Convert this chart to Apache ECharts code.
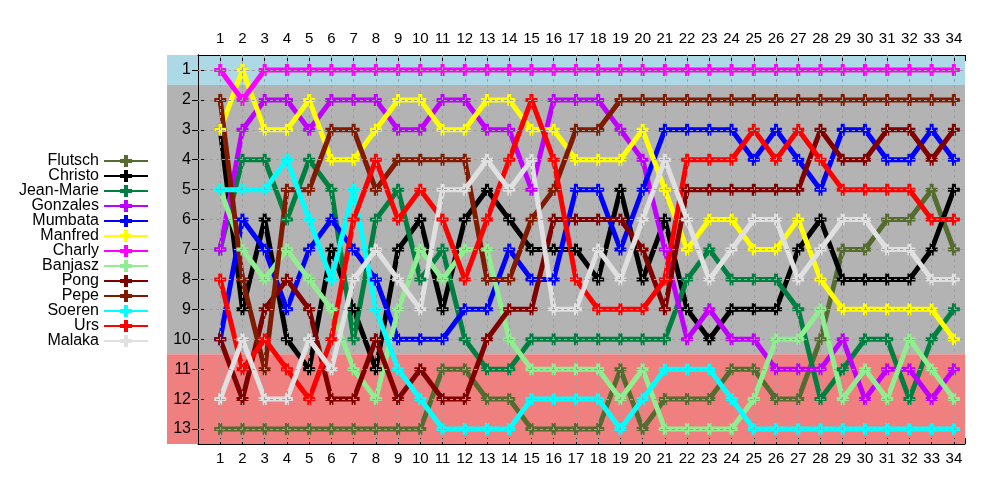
<!DOCTYPE html>
<html><head><meta charset="utf-8">
<script src="https://cdn.jsdelivr.net/npm/echarts@6/dist/echarts.min.js"></script>
<style>html,body{margin:0;padding:0;background:#fff}#c{width:1000px;height:500px}</style>
</head><body><div id="c"></div>
<script>
const rounds = Array.from({length:34},(_, i)=>i+1);
const rankTicks = [1,2,3,4,5,6,7,8,9,10,11,12,13];
const teams = ['Flutsch','Christo','Jean-Marie','Gonzales','Mumbata','Manfred','Charly','Banjasz','Pong','Pepe','Soeren','Urs','Malaka'];
const teamColors = ['#556b2f','#000000','#008040','#c000ff','#0000ff','#ffff00','#ff00ff','#90ee90','#800000','#801a00','#00ffff','#ff0000','#e0e0e0'];

const Flutsch  = [13,13,13,13,13,13,13,13,13,13,11,11,12,12,13,13,13,13,11,13,12,12,12,11,11,12,12,10,7,7,6,6,5,7];
const Christo  = [3,9,6,10,11,7,9,11,7,6,9,6,5,6,7,7,7,8,5,8,6,9,10,9,9,9,7,6,8,8,8,8,7,5];
const JeanMarie= [7,4,4,6,4,5,10,6,5,8,7,10,11,11,10,10,10,10,10,10,10,8,7,8,8,8,9,12,11,10,10,12,10,9];
const Gonzales = [7,3,2,2,3,2,2,2,3,3,2,2,3,3,5,2,2,2,3,4,7,10,9,10,10,11,11,11,10,12,11,11,12,11];
const Mumbata  = [10,6,7,9,7,6,7,8,10,10,10,9,9,7,8,8,5,5,7,5,3,3,3,3,4,3,4,5,3,3,4,4,3,4];
const Manfred  = [3,1,3,3,2,4,4,3,2,2,3,3,2,2,3,3,4,4,4,3,5,7,6,6,7,7,6,8,9,9,9,9,9,10];
const Charly   = [1,2,1,1,1,1,1,1,1,1,1,1,1,1,1,1,1,1,1,1,1,1,1,1,1,1,1,1,1,1,1,1,1,1];
const Banjasz  = [5,7,8,7,8,9,11,12,9,7,8,7,7,10,11,11,11,11,12,11,13,13,13,13,12,10,10,9,12,11,12,10,11,12];
const Pong     = [10,12,9,8,9,12,12,10,12,11,12,12,10,9,9,6,6,6,6,7,9,5,5,5,5,5,5,3,4,4,3,3,4,3];
const Pepe     = [2,8,11,5,5,3,3,5,4,4,4,4,8,8,6,5,3,3,2,2,2,2,2,2,2,2,2,2,2,2,2,2,2,2];
const Soeren   = [5,5,5,4,6,8,5,9,11,12,13,13,13,13,12,12,12,12,13,12,11,11,11,12,13,13,13,13,13,13,13,13,13,13];
const Urs      = [8,11,10,11,12,10,6,4,6,5,6,8,6,4,2,4,8,9,9,9,8,4,4,4,3,4,3,4,5,5,5,5,6,6];
const Malaka   = [12,10,12,12,10,11,8,7,8,9,5,5,4,5,4,9,9,7,8,6,4,6,8,7,6,6,8,7,6,6,7,7,8,8];
const teamData = [Flutsch,Christo,JeanMarie,Gonzales,Mumbata,Manfred,Charly,Banjasz,Pong,Pepe,Soeren,Urs,Malaka];

const FONT = 'Liberation Sans, Arial, sans-serif';
const plus = 'path://M-2,-6L2,-6L2,-2L6,-2L6,2L2,2L2,6L-2,6L-2,2L-6,2L-6,-2L-2,-2Z';

const chart = echarts.init(document.getElementById('c'), null, {renderer:'canvas'});

const series = [];
// background bands
series.push({
  type:'line', xAxisIndex:2, yAxisIndex:2, data:[], z:0, silent:true,
  markArea:{silent:true, label:{show:false},
    data:[
      [{yAxis:0.5, itemStyle:{color:'#add8e6'}},{yAxis:1.5}],
      [{yAxis:1.5, itemStyle:{color:'#b3b3b3'}},{yAxis:10.5}],
      [{yAxis:10.5, itemStyle:{color:'#f08080'}},{yAxis:13.5}]
    ]}
});
teams.forEach((t,k)=>{
  const col = teamColors[k];
  series.push({
    name:t, type:'line', xAxisIndex:0, yAxisIndex:0, z:2,
    data: rounds.map((r,i)=>[r, teamData[k][i]]),
    color: col,
    lineStyle:{color:col, width:5},
    symbol: plus, symbolSize:12, showAllSymbol:true,
    itemStyle:{color:col, borderColor:col, borderWidth:0},
    emphasis:{disabled:true},
    animation:false
  });
});
// front grid lines
series.push({
  type:'line', xAxisIndex:0, yAxisIndex:0, data:[], z:10, silent:true,
  markLine:{silent:true, symbol:'none', label:{show:false}, animation:false,
    lineStyle:{color:'#a0a0a0', width:1, type:[3,3]},
    data: rankTicks.map(r=>({yAxis:r})).concat(rounds.map(r=>({xAxis:r})))
  }
});

const axisText = {color:'#000', fontFamily:FONT, fontSize:15};
chart.setOption({
  animation:false,
  backgroundColor:'#fff',
  grid:[
    {left:198, right:35, top:55, bottom:56, show:false},
    {left:167, right:35, top:55, bottom:56, show:false}
  ],
  legend:{
    data:teams, orient:'vertical', align:'right', right:851, top:153,
    padding:0, itemGap:-1, itemWidth:44, itemHeight:15,
    textStyle:{color:'#000', fontFamily:FONT, fontSize:16},
    selectedMode:false
  },
  xAxis:[
    {type:'value', gridIndex:0, position:'bottom', min:0, max:34.5, interval:1, z:3,
     axisLine:{show:true, lineStyle:{color:'#000', width:1}},
     axisTick:{show:true, inside:true, length:6, lineStyle:{color:'#000'}},
     axisLabel:{...axisText, margin:7, formatter:v=> (v>=1 && v<=34 && Number.isInteger(v)) ? String(v) : ''},
     splitLine:{show:false}},
    {type:'value', gridIndex:0, position:'top', min:0, max:34.5, interval:1, z:3,
     axisLine:{show:true, lineStyle:{color:'#000', width:1}},
     axisTick:{show:true, inside:true, length:6, lineStyle:{color:'#000'}},
     axisLabel:{...axisText, margin:9, formatter:v=> (v>=1 && v<=34 && Number.isInteger(v)) ? String(v) : ''},
     splitLine:{show:false}},
    {type:'value', gridIndex:1, min:0, max:1, show:false}
  ],
  yAxis:[
    {type:'value', gridIndex:0, inverse:true, min:0.5, max:13.5, z:3,
     axisLine:{show:true, lineStyle:{color:'#000', width:1}},
     axisTick:{show:true, inside:true, length:6, customValues:rankTicks, lineStyle:{color:'#000'}},
     axisLabel:{...axisText, fontSize:16, margin:7, customValues:rankTicks},
     splitLine:{show:false}},
    {type:'value', gridIndex:0, inverse:true, min:0.5, max:13.5, position:'right', z:3,
     axisLine:{show:true, lineStyle:{color:'#000', width:1}},
     axisTick:{show:true, inside:true, length:6, customValues:rankTicks, lineStyle:{color:'#000'}},
     axisLabel:{show:false},
     splitLine:{show:false}},
    {type:'value', gridIndex:1, inverse:true, min:0.5, max:13.5, show:false}
  ],
  series: series
});
</script></body></html>
